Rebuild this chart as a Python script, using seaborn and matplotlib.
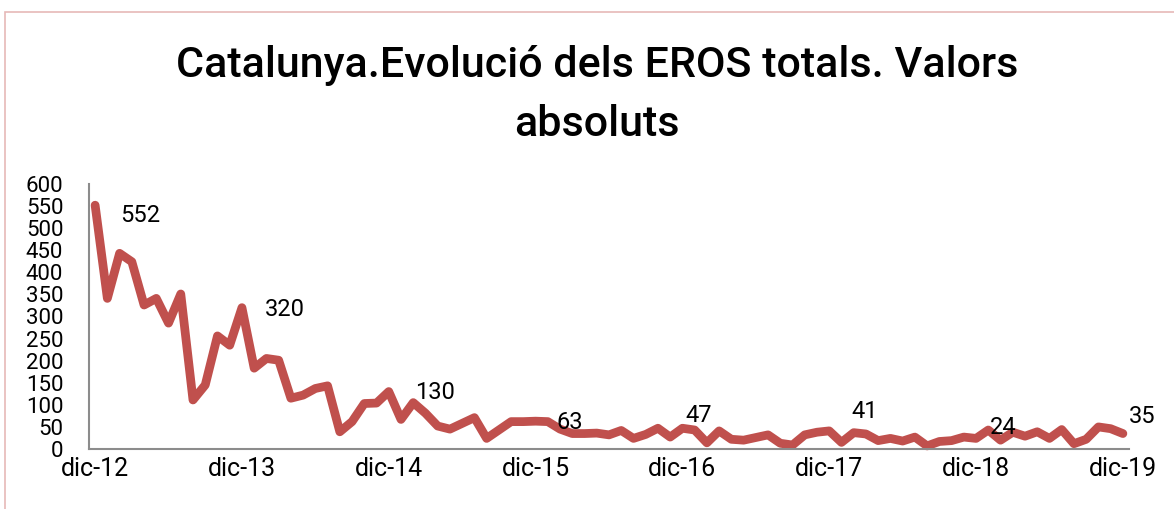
import numpy as np
import pandas as pd
import seaborn as sns
import matplotlib.pyplot as plt
from matplotlib.patches import Rectangle

# ---- data ----
values = [552, 341, 443, 424, 326, 341, 285, 351, 111, 145, 256, 235,
          320, 183, 205, 201, 115, 122, 137, 143, 39, 62, 103, 104,
          130, 67, 105, 81, 52, 45, 58, 71, 24, 43, 62, 62,
          63, 62, 45, 35, 35, 36, 32, 42, 24, 33, 47, 27,
          47, 43, 14, 41, 22, 20, 26, 32, 13, 9, 32, 38,
          41, 15, 37, 34, 19, 24, 18, 27, 7, 17, 19, 27,
          24, 43, 20, 38, 29, 39, 24, 44, 12, 22, 50, 46,
          35]
tick_labels = ["dic-12", "dic-13", "dic-14", "dic-15", "dic-16", "dic-17", "dic-18", "dic-19"]
tick_positions = [0, 12, 24, 36, 48, 60, 72, 84]
label_idx = [0, 12, 24, 36, 48, 60, 72, 84]
label_offsets = [(25, -10), (23, -2), (26, -1), (21, -1), (3, 13), (22, 19), (14, 11), (6, 17)]
title_line1 = "Catalunya.Evolució dels EROS totals. Valors"
title_line2 = "absoluts"

sns.set_theme(style="white")
plt.rcParams['font.family'] = ['Roboto', 'DejaVu Sans']
plt.rcParams['text.color'] = 'black'

W, H = 1174, 509
fig = plt.figure(figsize=(W / 100, H / 100), dpi=100)
ax = fig.add_axes([89 / W, 1 - 449 / H, (1129 - 89) / W, (449 - 184) / H])

df = pd.DataFrame({"idx": np.arange(len(values)), "eros": values})
sns.lineplot(data=df, x="idx", y="eros", ax=ax, color="#C0504D", linewidth=6.3,
             solid_joinstyle="round", solid_capstyle="round", clip_on=False)

ax.set_xlim(-0.5, len(values) - 0.5)
ax.set_ylim(0, 600)
ax.set_yticks(range(0, 601, 50))
ax.set_xticks(tick_positions)
ax.set_xticklabels(tick_labels)
ax.set_xlabel("")
ax.set_ylabel("")
ax.tick_params(axis="both", length=0, colors="black")
ax.tick_params(axis="y", labelsize=16, pad=18.5)
ax.tick_params(axis="x", labelsize=18, pad=6)
for s in ["top", "right"]:
    ax.spines[s].set_visible(False)
for s in ["left", "bottom"]:
    ax.spines[s].set_color("#8C8C8C")
    ax.spines[s].set_linewidth(1.5)

for i, (dx, dy) in zip(label_idx, label_offsets):
    ax.annotate(str(values[i]), xy=(i, values[i]), xytext=(dx, dy),
                textcoords="offset pixels", ha="left", va="center",
                fontsize=17, color="black")

fig.text(597 / W, 1 - 66 / H, title_line1, ha="center", va="center",
         fontsize=31, fontweight="medium", color="black",
         family=["Roboto", "DejaVu Sans"])
fig.text(597 / W, 1 - 125 / H, title_line2, ha="center", va="center",
         fontsize=31, fontweight="medium", color="black",
         family=["Roboto", "DejaVu Sans"])

# outer chart border (partially visible)
fig.add_artist(Rectangle((5 / W, -0.1), 1.2, 1 - 12 / H + 0.1, transform=fig.transFigure,
                         fill=False, edgecolor="#E6B9B8", linewidth=1.2))

fig.savefig("out.png", dpi=100)
